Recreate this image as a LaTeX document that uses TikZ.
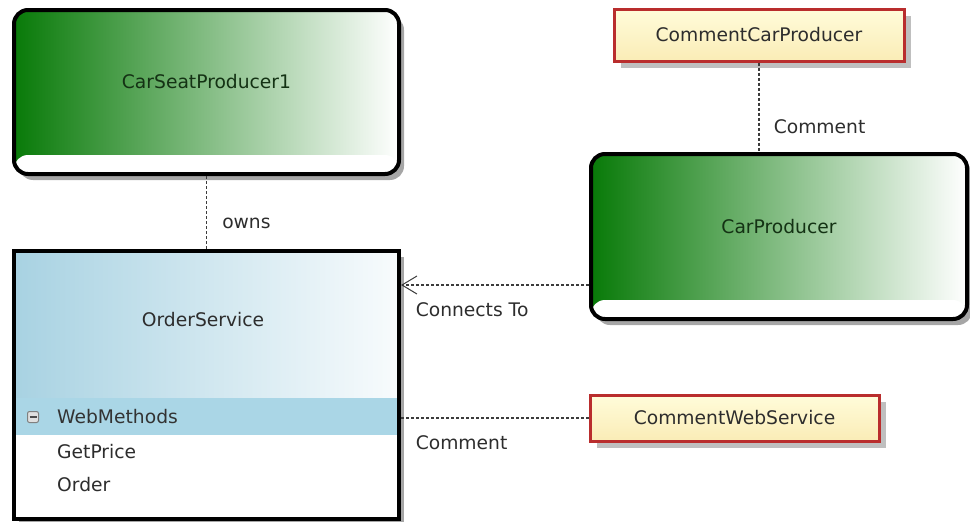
\documentclass[tikz,border=0pt]{standalone}
\usepackage{fontspec}
\setmainfont{DejaVu Sans}
\usetikzlibrary{shadows,arrows.meta,calc}
\definecolor{gdark}{RGB}{8,122,8}
\definecolor{bl}{RGB}{168,210,226}
\definecolor{blband}{RGB}{170,214,230}
\definecolor{cred}{RGB}{185,45,45}
\definecolor{ytop}{RGB}{255,252,218}
\definecolor{ybot}{RGB}{250,236,182}
\definecolor{txt}{RGB}{45,45,45}
\definecolor{gtxt}{RGB}{20,50,20}
\definecolor{conncol}{RGB}{60,60,60}
\begin{document}
\begin{tikzpicture}[x=1pt,y=-1pt,
  font=\fontsize{18.7}{22}\selectfont,
  entity/.style={rectangle, rounded corners=14pt, draw=black, line width=4pt,
    left color=gdark, right color=white, inner sep=0pt,
    drop shadow={shadow xshift=5pt, shadow yshift=-6pt, fill=black!35, opacity=1},
    path picture={\fill[white] ([yshift=19pt]path picture bounding box.south west) rectangle (path picture bounding box.south east);}},
  note/.style={rectangle, draw=cred, line width=3pt, top color=ytop, bottom color=ybot,
    inner sep=0pt, text=txt,
    drop shadow={shadow xshift=7pt, shadow yshift=-7pt, fill=black!25, opacity=1}},
  service/.style={rectangle, draw=black, line width=4pt, fill=white, inner sep=0pt,
    drop shadow={shadow xshift=5pt, shadow yshift=-6pt, fill=black!35, opacity=1},
    path picture={
      \shade[left color=bl, right color=white!92!bl]
        (path picture bounding box.north west) rectangle ($(path picture bounding box.north east)+(0,147)$);
      \fill[blband] ($(path picture bounding box.north west)+(0,147)$) rectangle ($(path picture bounding box.north east)+(0,184)$);
    }},
  conn/.style={draw=conncol, line width=1.5pt, dash pattern=on 3pt off 2pt},
  lbl/.style={inner sep=0pt, text=txt},
]
\useasboundingbox (0,0) rectangle (970,522);

% nodes
\node[entity, minimum width=385pt, minimum height=164pt] (csp) at (206.5,92) {};
\node[text=gtxt, inner sep=0pt] (csptext) at ([yshift=10pt]csp.center) {CarSeatProducer1};

\node[entity, minimum width=376pt, minimum height=165pt] (cp) at (779,236.5) {};
\node[text=gtxt, inner sep=0pt] (cptext) at ([yshift=10pt]cp.center) {CarProducer};

\node[note, minimum width=290pt, minimum height=52pt] (ccp) at (759,35) {CommentCarProducer};
\node[note, minimum width=289pt, minimum height=46pt] (cws) at (734.5,418) {CommentWebService};

\node[service, minimum width=385pt, minimum height=268pt] (os) at (206.5,385) {};
\node[lbl] (ostext) at (203,320) {OrderService};
\node[rectangle, rounded corners=2pt, draw=black!50, fill=black!12, line width=1pt,
      minimum size=11pt, inner sep=0pt] (tog) at (33,417) {};
\draw[black!70, line width=1.6pt] ([xshift=2.5pt]tog.west) -- ([xshift=-2.5pt]tog.east);
\node[lbl, anchor=west, text=black!80] (wm) at (57,417) {WebMethods};
\node[lbl, anchor=west] (gp) at (57,452) {GetPrice};
\node[lbl, anchor=west] (ord) at (57,485) {Order};

% connectors
\draw[conn] (csp) -- (os)
  node[lbl, pos=0.65, anchor=west, xshift=15pt] (ownslbl) {owns};
\draw[conn] (ccp.south) -- (ccp.south |- cp.north)
  node[lbl, pos=0.72, anchor=west, xshift=14pt] (c1lbl) {Comment};
\coordinate (ctS) at ($(cp.west)+(0,48.5)$);
\draw[conn, -{Straight Barb[length=15pt, width=18pt, line width=1pt]}] (ctS) -- (os.east |- ctS)
  node[lbl, pos=1, anchor=west, xshift=14pt, yshift=-25pt] (ctlbl) {Connects To};
\draw[conn] (os.east |- cws.west) -- (cws.west)
  node[lbl, pos=0, anchor=west, xshift=14pt, yshift=-25pt] (c2lbl) {Comment};
\end{tikzpicture}
\end{document}
